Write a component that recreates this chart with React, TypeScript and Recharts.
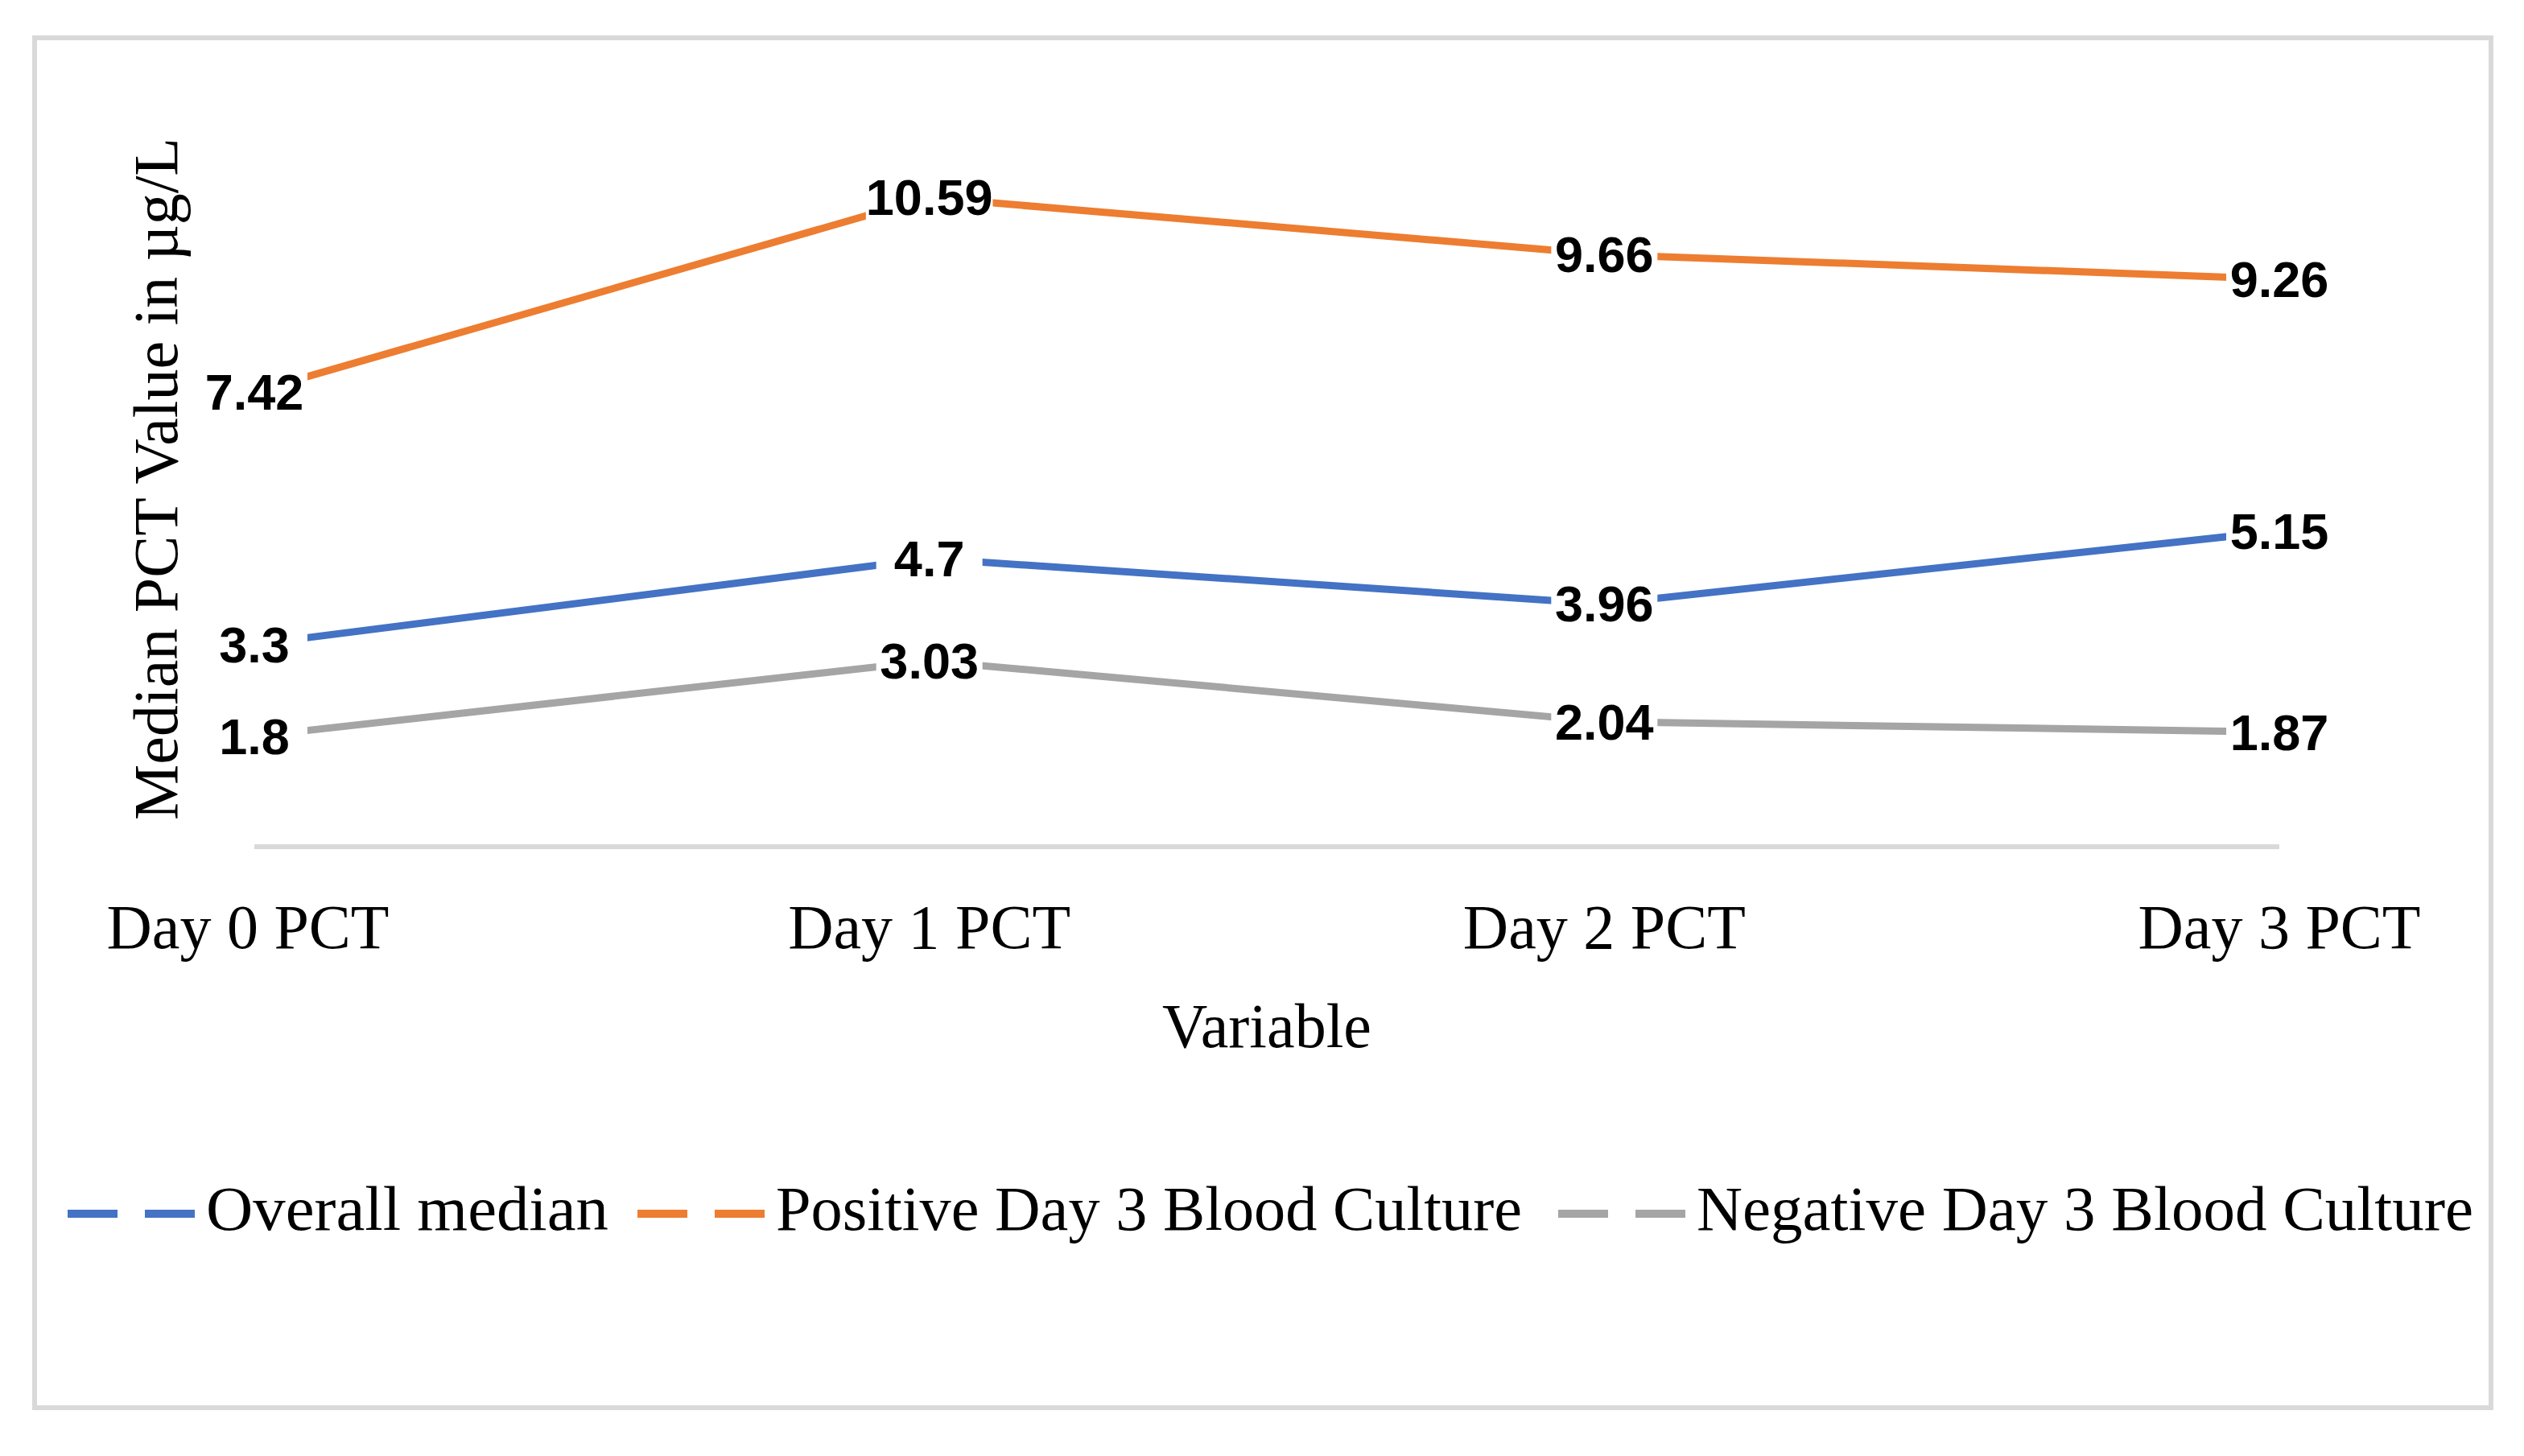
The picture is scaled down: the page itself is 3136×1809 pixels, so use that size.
import React from "react";
import { LineChart, Line, XAxis, YAxis, LabelList, Label } from "recharts";

const days = ["Day 0 PCT", "Day 1 PCT", "Day 2 PCT", "Day 3 PCT"];
const overallMedian = [3.3, 4.7, 3.96, 5.15];
const positiveCulture = [7.42, 10.59, 9.66, 9.26];
const negativeCulture = [1.8, 3.03, 2.04, 1.87];
const yDomain = [0, 12];

const series = [
  { key: "overall", name: "Overall median", color: "#4472C4" },
  { key: "positive", name: "Positive Day 3 Blood Culture", color: "#ED7D31" },
  { key: "negative", name: "Negative Day 3 Blood Culture", color: "#A5A5A5" },
];

// legend layout (px): where each entry starts and how wide its text runs
const legendLayout = [
  { x: 84, textWidth: 500 },
  { x: 792, textWidth: 927 },
  { x: 1936, textWidth: 965 },
];

const data = days.map((day, i) => ({
  day,
  overall: overallMedian[i],
  positive: positiveCulture[i],
  negative: negativeCulture[i],
}));

const SERIF = "'Liberation Serif', 'Times New Roman', serif";
const SANS = "'Liberation Sans', Arial, sans-serif";

function DataLabel(props: any) {
  const { x, y, value } = props;
  const text = String(value);
  // rough text width for the white box behind the label
  let tw = 0;
  for (const ch of text) tw += ch === "." ? 0.278 : 0.556;
  tw *= 63;
  const w = Math.max(tw, 132);
  return (
    <g>
      <rect x={x - w / 2} y={y - 30} width={w} height={60} fill="#ffffff" />
      <text x={x} y={y + 22} textAnchor="middle" fontFamily={SANS} fontWeight={700} fontSize={63} fill="#000">
        {text}
      </text>
    </g>
  );
}

function DayTick(props: any) {
  const { x, y, payload, index } = props;
  const shift = index === 0 ? -8 : 0;
  return (
    <text x={x + shift} y={y + 126} textAnchor="middle" fontFamily={SERIF} fontSize={78} fill="#000">
      {payload.value}
    </text>
  );
}

function ChartLegend() {
  return (
    <svg width={3136} height={180} style={{ position: "absolute", left: 0, top: 1420, display: "block" }}>
      {series.map((s, i) => {
        const l = legendLayout[i];
        return (
          <g key={s.key}>
            <line x1={l.x} y1={88} x2={l.x + 161} y2={88} stroke={s.color} strokeWidth={10} strokeDasharray="62 34" />
            <text
              x={l.x + 172}
              y={108}
              fontFamily={SERIF}
              fontSize={78}
              fill="#000"
              textLength={l.textWidth}
              lengthAdjust="spacingAndGlyphs"
            >
              {s.name}
            </text>
          </g>
        );
      })}
    </svg>
  );
}

export default function App() {
  return (
    <div style={{ position: "absolute", left: 0, top: 0, width: 3136, height: 1809, background: "#fff" }}>
      <div
        style={{
          position: "absolute",
          left: 40,
          top: 44,
          width: 3058,
          height: 1708,
          border: "6px solid #d9d9d9",
          boxSizing: "border-box",
        }}
      />
      <div style={{ position: "absolute", left: 0, top: 0 }}>
        <LineChart width={3136} height={1809} data={data} margin={{ top: 138, right: 304, bottom: 727, left: 315 }}>
          <XAxis
            dataKey="day"
            height={30}
            axisLine={{ stroke: "#d9d9d9", strokeWidth: 6 }}
            tickLine={false}
            tickSize={0}
            tickMargin={0}
            tick={<DayTick />}
            interval={0}
          >
            <Label
              content={(p: any) => {
                const vb = p.viewBox;
                return (
                  <text x={vb.x + vb.width / 2} y={vb.y + 249} textAnchor="middle" fontFamily={SERIF} fontSize={78} fill="#000">
                    Variable
                  </text>
                );
              }}
            />
          </XAxis>
          <YAxis domain={yDomain} width={1} axisLine={false} tickLine={false} tick={false}>
            <Label
              content={(p: any) => {
                const vb = p.viewBox;
                const cy = vb.y + vb.height / 2;
                return (
                  <text
                    x={220}
                    y={cy}
                    transform={`rotate(-90 220 ${cy})`}
                    textAnchor="middle"
                    fontFamily={SERIF}
                    fontSize={78}
                    fill="#000"
                  >
                    Median PCT Value in µg/L
                  </text>
                );
              }}
            />
          </YAxis>
          {series.map((s) => (
            <Line
              key={s.key}
              type="linear"
              dataKey={s.key}
              name={s.name}
              stroke={s.color}
              strokeWidth={9}
              dot={false}
              activeDot={false}
              isAnimationActive={false}
            >
              <LabelList dataKey={s.key} content={<DataLabel />} />
            </Line>
          ))}
        </LineChart>
      </div>
      <ChartLegend />
    </div>
  );
}
